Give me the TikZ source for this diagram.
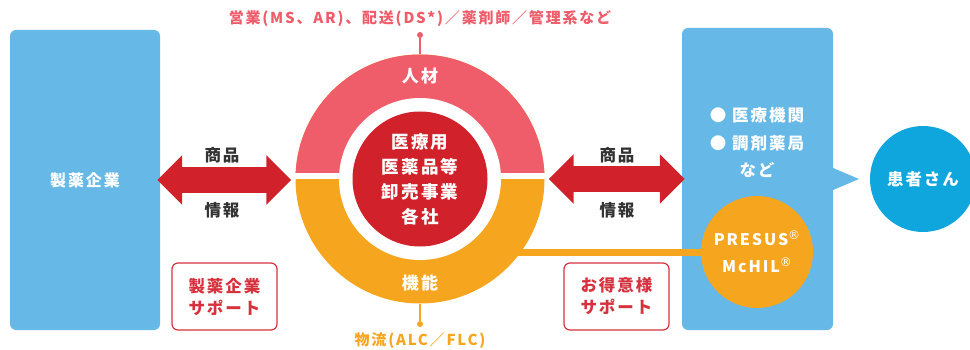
\documentclass[tikz,border=0pt]{standalone}
\usepackage{fontspec}
\setmainfont{Noto Sans CJK JP}[LetterSpace=12]
\newfontfamily\regfont{DejaVu Sans}
\usetikzlibrary{arrows.meta,positioning,calc}
\definecolor{boxblue}{RGB}{102,184,230}
\definecolor{patblue}{RGB}{14,166,220}
\definecolor{ringpink}{RGB}{239,92,106}
\definecolor{ringorange}{RGB}{246,166,30}
\definecolor{corered}{RGB}{209,34,44}
\definecolor{supred}{RGB}{214,50,62}
\definecolor{labgray}{RGB}{51,51,51}
\newcommand{\regmark}{\raisebox{.75ex}{\regfont\mdseries\fontsize{12}{12}\selectfont ®}}

\begin{document}
\begin{tikzpicture}[x=1pt,y=-1pt,font=\bfseries]
  \tikzstyle{block}=[rectangle,rounded corners=6pt,fill=boxblue,text=white,
                     font=\bfseries\fontsize{16}{19}\selectfont]
  \tikzstyle{support}=[rectangle,rounded corners=6pt,draw=supred,line width=1.2pt,
                       fill=white,text=supred,minimum width=105pt,minimum height=67pt,
                       align=center,font=\bfseries\fontsize{16.5}{22}\selectfont]
  \tikzstyle{tag}=[text=labgray,font=\bfseries\fontsize{16.5}{19}\selectfont]
  \tikzstyle{flow}=[line width=26pt,draw=corered,
                    {Triangle[width=48pt,length=25pt]}-{Triangle[width=48pt,length=25pt]}]
  \tikzstyle{pin}=[circle,inner sep=0pt,minimum size=6pt]
  \tikzstyle{disk}=[circle,inner sep=0pt,text=white,align=center]

  \useasboundingbox (0,0) rectangle (970,350);

  % boxes on both sides
  \node [block,minimum width=150pt,minimum height=300pt] (maker) at (85,180) {製薬企業};
  \node [block,minimum width=151pt,minimum height=302pt] (clinic) at (757.5,179) {};
  \coordinate (tip) at (859,179);
  \fill [boxblue] ([yshift=-11pt]clinic.east) -- (tip) -- ([yshift=11pt]clinic.east) -- cycle;
  \node [tag,text=white,align=center,font=\bfseries\fontsize{16.5}{28}\selectfont]
    (dest) at (757,129) {● 医療機関\\● 調剤薬局};
  \node [tag,text=white] (etc) at (757,170) {など};
  \node [disk,fill=patblue,minimum size=106pt,font=\bfseries\fontsize{16.5}{19}\selectfont]
    (patient) at (923,179) {患者さん};

  % ring
  \node [disk,minimum size=249pt] (ring) at (420,179) {};
  \node [disk,minimum size=112pt] (presus) at (757,252) {};
  \draw [ringorange,line width=7pt] (ring.center |- presus.center) -- (presus.center);
  \fill [ringorange] (ring.center) circle (124.5);
  \begin{scope}
    \clip (290,40) rectangle (550,173.5);
    \fill [ringpink] (ring.center) circle (124.5);
  \end{scope}
  \fill [white] (290,173.5) rectangle (550,179.5);
  \fill [white] (ring.center) circle (81);
  \node [disk,fill=corered,minimum size=135pt,font=\bfseries\fontsize{17.5}{25}\selectfont]
    (core) at (ring.center) {医療用\\医薬品等\\卸売事業\\各社};
  \node [text=white,font=\bfseries\fontsize{17}{19}\selectfont] (staff) at (420,76) {人材};
  \node [text=white,font=\bfseries\fontsize{17}{19}\selectfont] (func) at (420,283) {機能};
  \node [disk,fill=ringorange,minimum size=112pt,font=\bfseries\fontsize{16}{27}\selectfont]
    (presus) at (757,252) {PRESUS\regmark\\McHIL\regmark};

  % pins and their labels
  \node [pin,fill=ringpink] (tdot) at (420,35) {};
  \draw [ringpink,line width=1.3pt] (tdot) -- (ring.north);
  \node [text=ringpink,font=\bfseries\fontsize{15}{17}\selectfont]
    (tlabel) at (420,19) {営業(MS、AR)、配送(DS*)／薬剤師／管理系など};
  \node [pin,fill=ringorange] (bdot) at (420,324) {};
  \draw [ringorange,line width=1.3pt] (bdot) -- (ring.south);
  \node [text=ringorange,font=\bfseries\fontsize{15}{17}\selectfont]
    (blabel) at (420,341) {物流(ALC／FLC)};

  % goods and information
  \draw [flow] ([xshift=-3pt]maker.east) -- ([xshift=-4pt]maker.east -| ring.west);
  \draw [flow] ([xshift=4pt]ring.east) -- ([xshift=3pt]clinic.west);
  \node [tag] (goodsL) at (222,155) {商品};
  \node [tag] (infoL) at (222,210) {情報};
  \node [tag] (goodsR) at (617,155) {商品};
  \node [tag] (infoR) at (617,210) {情報};

  % support boxes
  \node [support] (msup) at (224.5,296.5) {製薬企業\\サポート};
  \node [support] (csup) at (616.5,296.5) {お得意様\\サポート};
\end{tikzpicture}
\end{document}
